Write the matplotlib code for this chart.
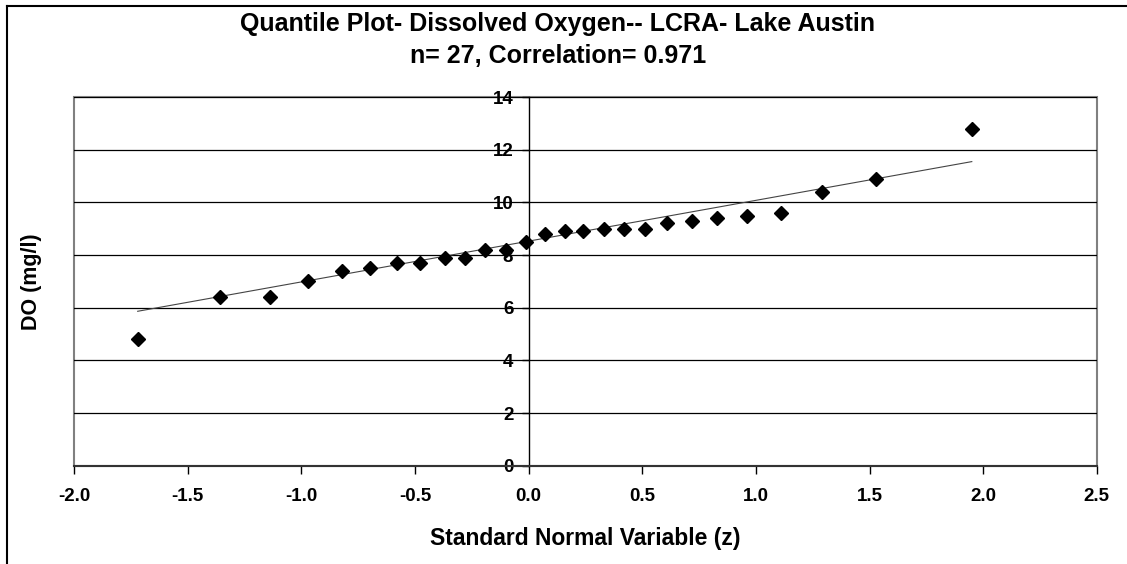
import matplotlib.pyplot as plt
import numpy as np
from matplotlib.lines import Line2D
from matplotlib.patches import Rectangle

plt.rcParams['font.family'] = ['Liberation Sans', 'DejaVu Sans']

# standard normal quantiles (z) and sorted DO values (mg/l)
z = [-1.72, -1.36, -1.14, -0.97, -0.82, -0.70, -0.58, -0.48, -0.37, -0.28,
     -0.19, -0.10, -0.01, 0.07, 0.16, 0.24, 0.33, 0.42, 0.51, 0.61,
     0.72, 0.83, 0.96, 1.11, 1.29, 1.53, 1.95]
do = [4.8, 6.4, 6.4, 7.0, 7.4, 7.5, 7.7, 7.7, 7.9, 7.9,
      8.2, 8.2, 8.5, 8.8, 8.9, 8.9, 9.0, 9.0, 9.0, 9.2,
      9.3, 9.4, 9.5, 9.6, 10.4, 10.9, 12.8]

x_ticks = [-2.0, -1.5, -1.0, -0.5, 0.0, 0.5, 1.0, 1.5, 2.0, 2.5]
y_ticks = [0, 2, 4, 6, 8, 10, 12, 14]

z = np.array(z)
do = np.array(do)

# normal reference line: mean + sd * z
xl = np.array([z.min(), z.max()])
yl = do.mean() + do.std(ddof=1) * xl

fig = plt.figure(figsize=(11.27, 5.64), dpi=100)
ax = fig.add_axes([0.0657, 0.174, 0.9075, 0.654])

ax.set_xlim(-2.0, 2.5)
ax.set_ylim(0, 14)

for y in y_ticks[1:]:
    ax.axhline(y, color='black', linewidth=0.9, zorder=1)

ax.plot(xl, yl, color='#444444', linewidth=0.8, zorder=2)
ax.plot(z, do, linestyle='none', marker='D', markersize=7,
        color='black', zorder=3)

# grey plot-area border
ax.add_patch(Rectangle((0, 0), 1, 1, transform=ax.transAxes, fill=False,
                       edgecolor='#808080', linewidth=1.5, zorder=0,
                       clip_on=False))

ax.spines['left'].set_position(('data', 0))
ax.spines['left'].set_color('black')
ax.spines['left'].set_linewidth(1.0)
ax.spines['bottom'].set_color('#333333')
ax.spines['bottom'].set_linewidth(1.5)
ax.spines['top'].set_visible(False)
ax.spines['right'].set_visible(False)

ax.set_xticks(x_ticks)
ax.set_xticklabels([f'{v:.1f}' for v in x_ticks])
ax.set_yticks(y_ticks)
ax.set_yticklabels([str(v) for v in y_ticks])
ax.tick_params(axis='x', direction='out', length=6, width=1, pad=10,
               labelsize=13.5)
ax.tick_params(axis='y', direction='out', length=5, width=1, pad=6,
               labelsize=13.5)
for lab in ax.get_xticklabels() + ax.get_yticklabels():
    lab.set_fontweight('bold')

fig.text(0.495, 0.958, 'Quantile Plot- Dissolved Oxygen-- LCRA- Lake Austin',
         ha='center', va='center', fontsize=18, fontweight='bold')
fig.text(0.495, 0.9, 'n= 27, Correlation= 0.971',
         ha='center', va='center', fontsize=18, fontweight='bold')
fig.text(0.519, 0.0337, 'Standard Normal Variable (z)',
         ha='center', va='baseline', fontsize=16.5, fontweight='bold')
fig.text(0.028, 0.5, 'DO (mg/l)', rotation=90,
         ha='center', va='center', fontsize=15.5, fontweight='bold')

# outer chart frame (left and top edges visible)
fig.add_artist(Line2D([0.0062, 0.0062], [0, 0.9894], transform=fig.transFigure,
                      color='black', linewidth=1.5))
fig.add_artist(Line2D([0.0062, 1.0], [0.9894, 0.9894], transform=fig.transFigure,
                      color='black', linewidth=1.5))

fig.savefig('out.png', dpi=100)
